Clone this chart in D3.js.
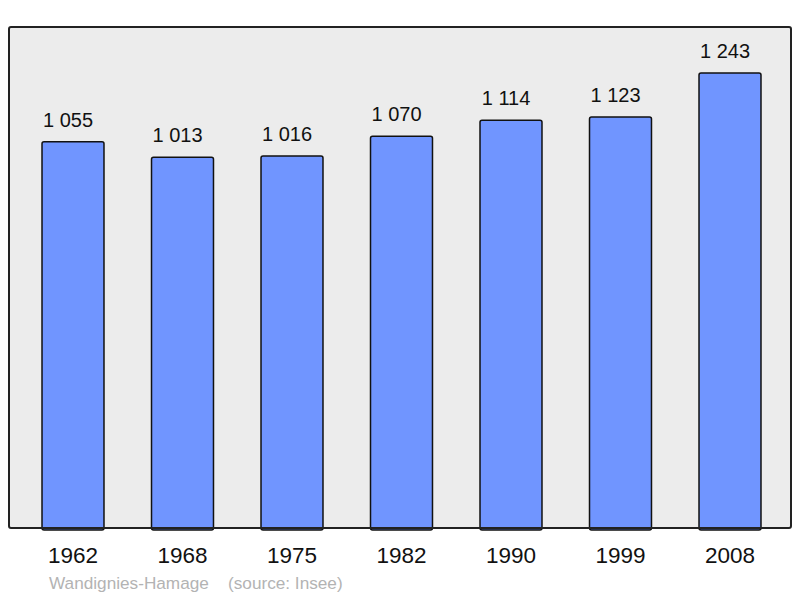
<!DOCTYPE html>
<html>
<head>
<meta charset="utf-8">
<script src="https://cdn.jsdelivr.net/npm/d3@7"></script>
<style>
  body { margin: 0; background: #fff; }
  svg { display: block; font-family: "Liberation Sans", Arial, sans-serif; }
</style>
</head>
<body>
<svg id="chart" width="800" height="598"></svg>
<script>
// Population figures (Insee)
const years = ["1962", "1968", "1975", "1982", "1990", "1999", "2008"];
const population = [1055, 1013, 1016, 1070, 1114, 1123, 1243];
const townName = "Wandignies-Hamage";
const sourceText = "(source: Insee)";

const svg = d3.select("#chart");

const frame = { left: 9, top: 27, right: 791, bottom: 528 };

const x = d3.scaleBand()
    .domain(years)
    .range([18.25, 784.75])
    .paddingInner(0.434)
    .paddingOuter(0.217);

const y = d3.scaleLinear()
    .domain([0, 1368.7])
    .range([frame.bottom, frame.top]);

const fmt = v => d3.format(",")(v).replace(/,/g, " ");

// plot background
svg.append("rect")
    .attr("x", frame.left)
    .attr("y", frame.top)
    .attr("width", frame.right - frame.left)
    .attr("height", frame.bottom - frame.top)
    .attr("rx", 2)
    .attr("fill", "#ececec");

const data = years.map((yr, i) => ({ year: yr, value: population[i] }));

// bars
svg.selectAll("rect.bar")
    .data(data)
    .join("rect")
    .attr("class", "bar")
    .attr("x", d => x(d.year))
    .attr("y", d => y(d.value))
    .attr("width", x.bandwidth())
    .attr("height", d => frame.bottom - y(d.value) + 2)
    .attr("rx", 2)
    .attr("fill", "#7095ff")
    .attr("stroke", "#111")
    .attr("stroke-width", 1.5);

// frame on top
svg.append("rect")
    .attr("x", frame.left)
    .attr("y", frame.top)
    .attr("width", frame.right - frame.left)
    .attr("height", frame.bottom - frame.top)
    .attr("rx", 2)
    .attr("fill", "none")
    .attr("stroke", "#222")
    .attr("stroke-width", 2);

// value labels
svg.selectAll("text.value")
    .data(data)
    .join("text")
    .attr("class", "value")
    .attr("x", d => x(d.year) + x.bandwidth() / 2 - 5)
    .attr("y", d => y(d.value) - 15)
    .attr("text-anchor", "middle")
    .attr("font-size", 20)
    .attr("fill", "#111")
    .text(d => fmt(d.value));

// year labels
svg.selectAll("text.year")
    .data(data)
    .join("text")
    .attr("class", "year")
    .attr("x", d => x(d.year) + x.bandwidth() / 2)
    .attr("y", 563)
    .attr("text-anchor", "middle")
    .attr("font-size", 22.5)
    .attr("fill", "#111")
    .text(d => d.year);

// footer
svg.append("text")
    .attr("x", 49)
    .attr("y", 589)
    .attr("font-size", 17.2)
    .attr("fill", "#b3b3b3")
    .text(townName);

svg.append("text")
    .attr("x", 228)
    .attr("y", 589)
    .attr("font-size", 17.2)
    .attr("fill", "#b3b3b3")
    .text(sourceText);
</script>
</body>
</html>
